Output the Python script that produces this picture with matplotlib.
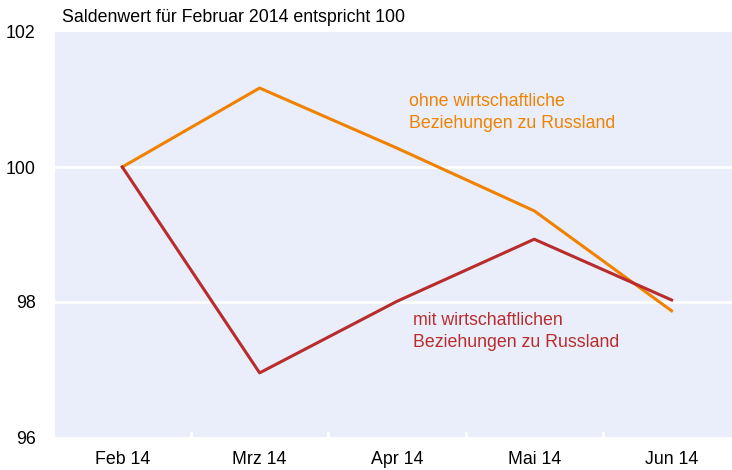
import matplotlib.pyplot as plt

plt.rcParams['font.family'] = ['Liberation Sans', 'DejaVu Sans']

months = ['Feb 14', 'Mrz 14', 'Apr 14', 'Mai 14', 'Jun 14']
ohne = [100.0, 101.17, 100.28, 99.35, 97.87]
mit = [100.0, 96.95, 98.01, 98.93, 98.03]

orange = '#F08200'
red = '#B82C2C'
bg = '#EAEEFA'

W, H = 732, 470
fig = plt.figure(figsize=(W / 100, H / 100), dpi=100)
ax = fig.add_axes([55 / W, (H - 437) / H, (W - 55) / W, (437 - 32) / H])
ax.set_facecolor(bg)

x = list(range(len(months)))
ax.plot(x, ohne, color=orange, lw=2.2, zorder=3)
ax.plot(x, mit, color=red, lw=2.2, zorder=3)

ax.set_ylim(96, 102)
ax.set_xlim(-0.49, 4.44)
ax.set_yticks([96, 98, 100, 102])
ax.set_xticks(x)
ax.set_xticklabels(months)
ax.tick_params(axis='both', length=0, labelsize=12.8, colors='black')
ax.tick_params(axis='x', pad=10)
ax.tick_params(axis='y', pad=14)

for yv in [98, 100]:
    ax.axhline(yv, color='white', lw=2, zorder=1)

# separators between categories at the bottom
for b in [0.5, 1.5, 2.5, 3.5]:
    ax.plot([b, b], [96, 96.06], color='white', lw=2, zorder=2, clip_on=False)

for s in ax.spines.values():
    s.set_visible(False)

ax.text(2.087, 100.81, 'ohne wirtschaftliche\nBeziehungen zu Russland', color=orange,
        fontsize=12.8, va='center', ha='left', linespacing=1.4)
ax.text(2.116, 97.56, 'mit wirtschaftlichen\nBeziehungen zu Russland', color=red,
        fontsize=12.8, va='center', ha='left', linespacing=1.4)

fig.text(62 / W, 1 - 18 / H, 'Saldenwert für Februar 2014 entspricht 100',
         fontsize=12.8, va='center', ha='left')

fig.savefig('out.png', dpi=100, facecolor='white')
